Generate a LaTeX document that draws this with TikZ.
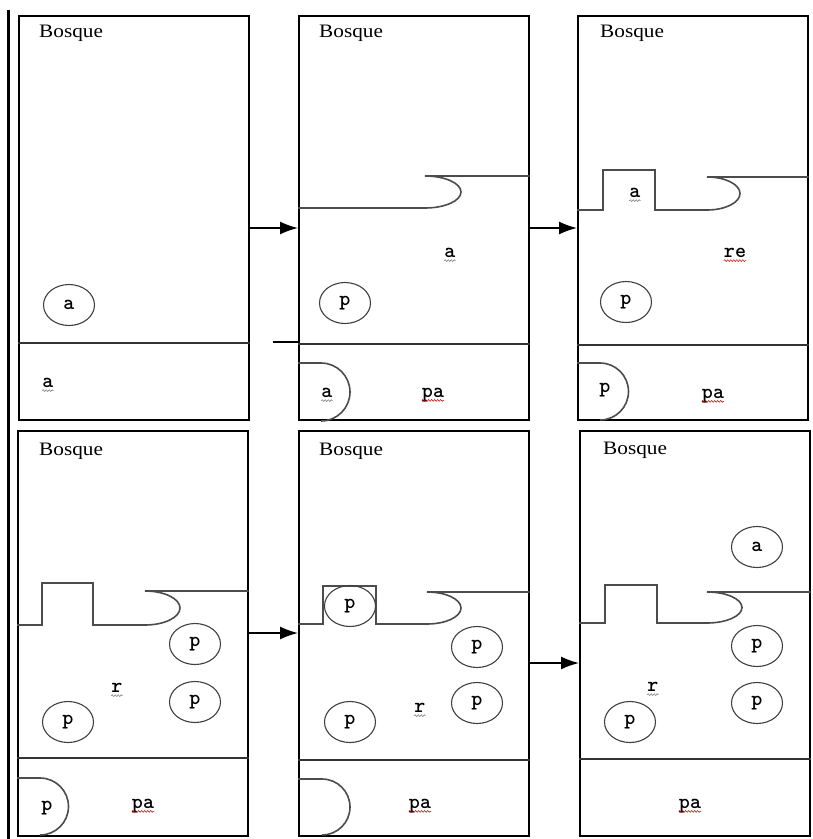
\documentclass[tikz,border=0pt]{standalone}
\usepackage{fontspec}
\setmainfont{Liberation Serif}
\usetikzlibrary{arrows.meta,decorations.pathmorphing,shapes.geometric,calc}
\begin{document}
\begin{tikzpicture}[x=1pt,y=-1pt,
 panel/.style={draw=black,line width=1.6pt,minimum width=230pt,minimum height=404pt,anchor=north west,inner sep=0pt},
 divl/.style={draw=black!80,line width=1.6pt},
 wall/.style={draw=black!70,line width=1.6pt},
 agent/.style={draw=black!75,line width=1.1pt,ellipse,minimum width=51pt,minimum height=41pt,inner sep=0pt,font=\ttfamily\bfseries\fontsize{21}{21}\selectfont},
 lbl/.style={font=\ttfamily\bfseries\fontsize{21}{21}\selectfont,inner sep=0pt},
 ttl/.style={font=\fontsize{19}{19}\selectfont,anchor=west,inner sep=0pt},
 arr/.style={draw=black,line width=1.6pt,-{Latex[length=18pt,width=13pt]}},
 squig/.style={draw=red!75!black,line width=0.5pt,decorate,decoration={snake,amplitude=0.9pt,segment length=3pt}}
]
\useasboundingbox (0,0) rectangle (813,839);
\fill[white] (0,0) rectangle (813,839);
% left thick bar
\draw[line width=3.2pt] (8.5,10) -- (8.5,839);
% panels
\node[panel] (p1) at (18,15) {};
\node[panel] (p2) at (298,15) {};
\node[panel] (p3) at (577,15) {};
\node[panel,minimum height=405pt] (p4) at (17,430) {};
\node[panel,minimum height=405pt] (p5) at (298,430) {};
\node[panel,minimum height=405pt] (p6) at (579,430) {};
% titles
\node[ttl] (b1) at (39,33) {\scalebox{1.12}[1]{Bosque}};
\node[ttl] (b2) at (319,33) {\scalebox{1.12}[1]{Bosque}};
\node[ttl] (b3) at (600,33) {\scalebox{1.12}[1]{Bosque}};
\node[ttl] (b4) at (39,451) {\scalebox{1.12}[1]{Bosque}};
\node[ttl] (b5) at (319,451) {\scalebox{1.12}[1]{Bosque}};
\node[ttl] (b6) at (603,450) {\scalebox{1.12}[1]{Bosque}};
% dividers
\draw[divl] (p1.west |- 0,343) -- (p1.east |- 0,343);
\draw[divl] (p2.west |- 0,344) -- (p2.east |- 0,344);
\draw[divl] (p3.west |- 0,345) -- (p3.east |- 0,345);
\draw[divl] (p4.west |- 0,758) -- (p4.east |- 0,758);
\draw[divl] (p5.west |- 0,760) -- (p5.east |- 0,760);
\draw[divl] (p6.west |- 0,759) -- (p6.east |- 0,759);
% walls / bays
\draw[wall] (p2.west |- 0,208) -- (425,208) arc[start angle=-90,end angle=90,x radius=36pt,y radius=16pt] -- (p2.east |- 0,176);
\draw[wall] (p3.west |- 0,210) -- (603,210) -- (603,170) -- (655,170) -- (655,210) -- (707,210)
  arc[start angle=-90,end angle=90,x radius=33pt,y radius=16.5pt] -- (p3.east |- 0,177);
\draw[wall] (p4.west |- 0,625) -- (42,625) -- (42,583) -- (93,583) -- (93,625) -- (145,625)
  arc[start angle=-90,end angle=90,x radius=35pt,y radius=17pt] -- (p4.east |- 0,591);
\draw[wall] (p5.west |- 0,624) -- (323,624) -- (323,586) -- (376,586) -- (376,624) -- (427,624)
  arc[start angle=-90,end angle=90,x radius=34pt,y radius=16pt] -- (p5.east |- 0,592);
\draw[wall] (p6.west |- 0,623) -- (605,623) -- (605,585) -- (657,585) -- (657,623) -- (707,623)
  arc[start angle=-90,end angle=90,x radius=35pt,y radius=15.5pt] -- (p6.east |- 0,592);
% D shapes at the bottom
\draw[wall] (p2.west |- 0,363) -- (321,363) arc[start angle=90,end angle=-90,radius=29pt];
\draw[wall] (p3.west |- 0,363) -- (600,363) arc[start angle=90,end angle=-90,radius=28.5pt];
\draw[wall] (p4.west |- 0,778) -- (40,778) arc[start angle=90,end angle=-90,radius=28.5pt];
\draw[wall] (p5.west |- 0,779) -- (322,779) arc[start angle=90,end angle=-90,radius=28pt];
% stray line left of panel 2
\coordinate (s2) at (273,342);
\draw[line width=1.4pt] (s2) -- (p2.west |- s2);
% arrows
\coordinate (y12) at (0,228);
\coordinate (y45) at (0,633);
\coordinate (y56) at (0,663);
\draw[arr] (p1.east |- y12) -- (p2.west |- y12);
\draw[arr] (p2.east |- y12) -- (p3.west |- y12);
\draw[arr] (p4.east |- y45) -- (p5.west |- y45);
\draw[arr] (p5.east |- y56) -- (p6.west |- y56);
% agents (ellipses)
\node[agent] (e11) at (69,305) {a};
\node[agent] (e21) at (345,303) {p};
\node[agent] (e31) at (626,302) {p};
\node[agent] (e41) at (195,644) {p};
\node[agent] (e42) at (195,702) {p};
\node[agent] (e43) at (68,722) {p};
\node[agent] (e51) at (350,606) {p};
\node[agent] (e52) at (477,647) {p};
\node[agent] (e53) at (477,703) {p};
\node[agent] (e54) at (350,722) {p};
\node[agent] (e61) at (757,547) {a};
\node[agent] (e62) at (757,646) {p};
\node[agent] (e63) at (757,703) {p};
\node[agent] (e64) at (630,722) {p};
% plain labels
\node[lbl] (t11) at (48,383) {a};
\node[lbl] (t21) at (450,253) {a};
\node[lbl] (t22) at (327,393) {a};
\node[lbl] (t23) at (433,395) {pa};
\node[lbl] (t31) at (635,193) {a};
\node[lbl] (t32) at (735,253) {re};
\node[lbl] (t33) at (605,390) {p};
\node[lbl] (t34) at (713,396) {pa};
\node[lbl] (t41) at (117,688) {r};
\node[lbl] (t42) at (47,808) {p};
\node[lbl] (t43) at (143,806) {pa};
\node[lbl] (t51) at (420,708) {r};
\node[lbl] (t52) at (420,806) {pa};
\node[lbl] (t61) at (653,687) {r};
\node[lbl] (t62) at (690,806) {pa};
% spell-check squiggles
\foreach \t in {t23,t32,t34,t43,t52,t62}
  \draw[squig] ([yshift=-3pt]\t.base west) -- ([yshift=-3pt]\t.base east);
\foreach \t in {t11,t21,t22,t31,t41,t51,t61}
  \draw[squig,draw=black!55] ([yshift=-3pt]\t.base west) -- ([yshift=-3pt]\t.base east);
\end{tikzpicture}
\end{document}
